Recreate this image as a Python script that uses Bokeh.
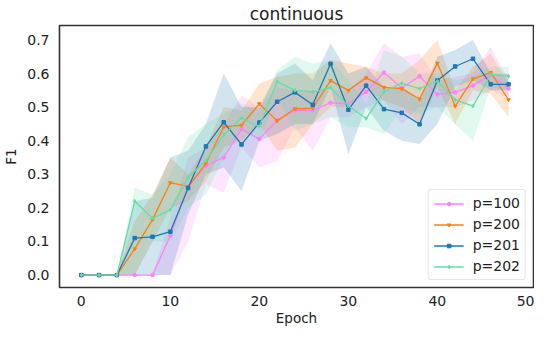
from bokeh.plotting import figure
from bokeh.embed import file_html
from bokeh.resources import INLINE
from bokeh.models import Range1d, Legend, LegendItem, FixedTicker, PrintfTickFormatter

epochs = [0, 2, 4, 6, 8, 10, 12, 14, 16, 18, 20, 22, 24, 26, 28, 30, 32, 34, 36, 38, 40, 42, 44, 46, 48]

p100 = [0, 0, 0, 0, 0, 0.117, 0.264, 0.326, 0.35, 0.435, 0.405, 0.461, 0.49, 0.49, 0.513, 0.51,
        0.545, 0.603, 0.557, 0.592, 0.538, 0.544, 0.564, 0.596, 0.555]
p100_lo = [0, 0, 0, 0, 0, 0.0, 0.10, 0.27, 0.245, 0.38, 0.32, 0.34, 0.44, 0.37, 0.47, 0.47,
           0.50, 0.52, 0.45, 0.50, 0.50, 0.50, 0.52, 0.55, 0.53]
p100_hi = [0, 0, 0, 0, 0, 0.17, 0.35, 0.38, 0.45, 0.535, 0.50, 0.56, 0.55, 0.55, 0.55, 0.55,
           0.60, 0.69, 0.65, 0.66, 0.58, 0.59, 0.60, 0.68, 0.58]

p200 = [0, 0, 0, 0.078, 0.165, 0.275, 0.263, 0.332, 0.441, 0.446, 0.51, 0.459, 0.495, 0.497, 0.579, 0.55,
        0.587, 0.559, 0.555, 0.524, 0.631, 0.503, 0.584, 0.603, 0.522]
p200_lo = [0, 0, 0, 0.0, 0.10, 0.20, 0.22, 0.28, 0.38, 0.40, 0.45, 0.37, 0.38, 0.45, 0.50, 0.50,
           0.55, 0.52, 0.50, 0.45, 0.56, 0.45, 0.55, 0.54, 0.47]
p200_hi = [0, 0, 0, 0.16, 0.24, 0.35, 0.30, 0.38, 0.50, 0.49, 0.57, 0.59, 0.60, 0.60, 0.64, 0.63,
           0.62, 0.60, 0.60, 0.64, 0.70, 0.55, 0.62, 0.66, 0.57]

p201 = [0, 0, 0, 0.110, 0.114, 0.129, 0.259, 0.383, 0.455, 0.389, 0.454, 0.516, 0.544, 0.507, 0.629, 0.492,
        0.564, 0.494, 0.483, 0.449, 0.579, 0.621, 0.644, 0.568, 0.568]
p201_lo = [0, 0, 0, 0.0, 0.0, 0.0, 0.18, 0.30, 0.32, 0.25, 0.40, 0.42, 0.45, 0.45, 0.56, 0.36,
           0.50, 0.43, 0.40, 0.39, 0.45, 0.56, 0.58, 0.55, 0.55]
p201_hi = [0, 0, 0, 0.22, 0.23, 0.35, 0.37, 0.45, 0.60, 0.50, 0.50, 0.60, 0.63, 0.58, 0.69, 0.60,
           0.62, 0.56, 0.56, 0.52, 0.65, 0.67, 0.70, 0.60, 0.60]

p202 = [0, 0, 0, 0.220, 0.169, 0.194, 0.291, 0.341, 0.416, 0.468, 0.442, 0.576, 0.55, 0.545, 0.558, 0.504,
        0.466, 0.546, 0.571, 0.555, 0.577, 0.522, 0.503, 0.597, 0.592]
p202_lo = [0, 0, 0, 0.0, 0.10, 0.10, 0.20, 0.24, 0.35, 0.43, 0.40, 0.53, 0.43, 0.45, 0.47, 0.44,
           0.44, 0.42, 0.50, 0.48, 0.50, 0.45, 0.40, 0.56, 0.55]
p202_hi = [0, 0, 0, 0.26, 0.24, 0.30, 0.41, 0.45, 0.48, 0.51, 0.49, 0.61, 0.65, 0.63, 0.64, 0.58,
           0.51, 0.67, 0.65, 0.60, 0.60, 0.58, 0.59, 0.62, 0.62]

labels = ["p=100", "p=200", "p=201", "p=202"]
colors = ["#ff80ff", "#ff7f0e", "#1f77b4", "#66dda5"]
markers = ["circle", "inverted_triangle", "square", "diamond"]
series = [(p100, p100_lo, p100_hi), (p200, p200_lo, p200_hi), (p201, p201_lo, p201_hi), (p202, p202_lo, p202_hi)]

FONT = "DejaVu Sans"

p = figure(width=534, height=328, output_backend="svg", toolbar_location=None,
           x_range=Range1d(-2.45, 50.8), y_range=Range1d(-0.037, 0.743),
           title="continuous", min_border_left=0, min_border_right=1, min_border_top=0,
           min_border_bottom=0)
p.title.align = "center"
p.title.text_font = FONT
p.title.text_font_size = "17px"
p.title.text_font_style = "normal"
p.title.text_color = "#222222"
p.title.standoff = 3

p.outline_line_color = "#333333"
p.outline_line_width = 1.6
p.xgrid.visible = False
p.ygrid.visible = False

for ax in (p.xaxis, p.yaxis):
    ax.axis_line_color = None
    ax.major_tick_line_color = None
    ax.minor_tick_line_color = None
    ax.major_tick_out = 0
    ax.major_tick_in = 0
    ax.minor_tick_out = 0
    ax.minor_tick_in = 0
    ax.major_label_text_font = FONT
    ax.major_label_text_font_size = "14px"
    ax.major_label_text_color = "#222222"
    ax.axis_label_text_font = FONT
    ax.axis_label_text_font_size = "13.5px"
    ax.axis_label_text_font_style = "normal"
    ax.axis_label_text_color = "#222222"

p.xaxis.ticker = FixedTicker(ticks=[0, 10, 20, 30, 40, 50])
p.yaxis.ticker = FixedTicker(ticks=[0.0, 0.1, 0.2, 0.3, 0.4, 0.5, 0.6, 0.7])
p.yaxis.formatter = PrintfTickFormatter(format="%.1f")
p.xaxis.axis_label = "Epoch"
p.yaxis.axis_label = "F1"
p.xaxis.major_label_standoff = 8
p.yaxis.major_label_standoff = 10
p.xaxis.axis_label_standoff = 1
p.yaxis.axis_label_standoff = 5

for (vals, lo, hi), c in zip(series, colors):
    p.varea(x=epochs, y1=lo, y2=hi, fill_color=c, fill_alpha=0.2)

items = []
for (vals, lo, hi), c, m, lab in zip(series, colors, markers, labels):
    r1 = p.line(epochs, vals, line_color=c, line_width=1.3)
    r2 = p.scatter(epochs, vals, marker=m, size=3.5, fill_color=c, line_color=c)
    items.append(LegendItem(label=lab, renderers=[r1, r2]))

legend = Legend(items=items, location="bottom_right")
legend.label_text_font = FONT
legend.label_text_font_size = "14px"
legend.label_text_color = "#222222"
legend.border_line_color = "#cccccc"
legend.border_line_width = 1
legend.border_radius = 3
legend.background_fill_alpha = 0.85
legend.glyph_width = 30
legend.glyph_height = 9
legend.spacing = 5
legend.padding = 5
legend.margin = 7
legend.label_standoff = 9
p.add_layout(legend)

open("out.html", "w").write(file_html(p, INLINE))
